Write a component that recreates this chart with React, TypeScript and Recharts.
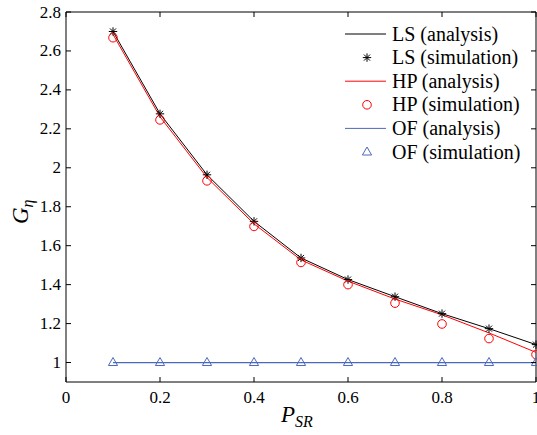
import React from 'react';
import { LineChart, Line, XAxis, YAxis, ReferenceArea, Legend } from 'recharts';

// P_SR values
const psr = [0.1, 0.2, 0.3, 0.4, 0.5, 0.6, 0.7, 0.8, 0.9, 1.0];

// G_eta
const lsAnalysis = [2.7, 2.277, 1.964, 1.725, 1.537, 1.426, 1.338, 1.251, 1.174, 1.092];
const lsSimulation = [2.7, 2.277, 1.964, 1.725, 1.537, 1.426, 1.338, 1.251, 1.174, 1.092];
const hpAnalysis = [2.685, 2.262, 1.95, 1.712, 1.527, 1.418, 1.326, 1.245, 1.152, 1.052];
const hpSimulation = [2.668, 2.246, 1.933, 1.699, 1.514, 1.4, 1.305, 1.198, 1.123, 1.041];
const ofAnalysis = [1, 1, 1, 1, 1, 1, 1, 1, 1, 1];
const ofSimulation = [1, 1, 1, 1, 1, 1, 1, 1, 1, 1];

const xTicks = [0, 0.2, 0.4, 0.6, 0.8, 1];
const yTicks = [1, 1.2, 1.4, 1.6, 1.8, 2, 2.2, 2.4, 2.6, 2.8];

const legendLabels = [
  'LS (analysis)',
  'LS (simulation)',
  'HP (analysis)',
  'HP (simulation)',
  'OF (analysis)',
  'OF (simulation)',
];

const data = psr.map((x, i) => ({
  x,
  lsA: lsAnalysis[i],
  lsS: lsSimulation[i],
  hpA: hpAnalysis[i],
  hpS: hpSimulation[i],
  ofA: ofAnalysis[i],
  ofS: ofSimulation[i],
}));

const FONT = '"Liberation Serif", "Times New Roman", serif';
const RED = '#ff0000';
const BLUE = '#4a68bd';
// plot box edges (px), used for the inward MATLAB-style ticks
const BOX = { left: 66, right: 536, top: 12, bottom: 382 };

const fmt = (v: number) => String(Math.round(v * 10) / 10);

const Star = ({ cx, cy, color = '#000', r = 4.2 }: any) => {
  const d = r * 0.72;
  return (
    <g stroke={color} strokeWidth={1}>
      <line x1={cx - r} y1={cy} x2={cx + r} y2={cy} />
      <line x1={cx} y1={cy - r} x2={cx} y2={cy + r} />
      <line x1={cx - d} y1={cy - d} x2={cx + d} y2={cy + d} />
      <line x1={cx - d} y1={cy + d} x2={cx + d} y2={cy - d} />
    </g>
  );
};

const Circle = ({ cx, cy }: any) => (
  <circle cx={cx} cy={cy} r={4.3} fill="none" stroke={RED} strokeWidth={1} />
);

const Triangle = ({ cx, cy }: any) => (
  <path
    d={`M${cx},${cy - 5} L${cx + 4.6},${cy + 3} L${cx - 4.6},${cy + 3} Z`}
    fill="none"
    stroke={BLUE}
    strokeWidth={1}
  />
);

const renderStar = (p: any) => <Star key={`s${p.index}`} cx={p.cx} cy={p.cy} />;
const renderCircle = (p: any) => <Circle key={`c${p.index}`} cx={p.cx} cy={p.cy} />;
const renderTriangle = (p: any) => <Triangle key={`t${p.index}`} cx={p.cx} cy={p.cy} />;

const XTick = ({ x, payload }: any) => (
  <g>
    <line x1={x} x2={x} y1={BOX.bottom} y2={BOX.bottom - 5} stroke="#000" />
    <line x1={x} x2={x} y1={BOX.top} y2={BOX.top + 5} stroke="#000" />
    <text x={x} y={BOX.bottom + 21} textAnchor="middle" fontSize={17} fontFamily={FONT} fill="#000">
      {fmt(payload.value)}
    </text>
  </g>
);

const YTick = ({ y, payload }: any) => (
  <g>
    <line x1={BOX.left} x2={BOX.left + 5} y1={y} y2={y} stroke="#000" />
    <line x1={BOX.right} x2={BOX.right - 5} y1={y} y2={y} stroke="#000" />
    <text x={BOX.left - 5} y={y + 5.5} textAnchor="end" fontSize={17} fontFamily={FONT} fill="#000">
      {fmt(payload.value)}
    </text>
  </g>
);

const YLabel = () => (
  <text transform="translate(28,224) rotate(-90)" fontFamily={FONT} fontStyle="italic" fill="#000">
    <tspan fontSize={23}>G</tspan>
    <tspan fontSize={16} dy={5}>η</tspan>
  </text>
);

const XLabel = () => (
  <text x={281} y={422} fontFamily={FONT} fontStyle="italic" fill="#000">
    <tspan fontSize={23}>P</tspan>
    <tspan fontSize={16} dy={5}>SR</tspan>
  </text>
);

const LegendBox = () => (
  <svg width={200} height={150}>
    {legendLabels.map((label, i) => {
      const y = 12 + i * 23.6;
      const color = i < 2 ? '#000' : i < 4 ? RED : BLUE;
      const isLine = i % 2 === 0;
      return (
        <g key={label}>
          {isLine ? (
            <line x1={5} x2={46} y1={y} y2={y} stroke={color} strokeWidth={1} />
          ) : i === 1 ? (
            <Star cx={27} cy={y} />
          ) : i === 3 ? (
            <Circle cx={27} cy={y} />
          ) : (
            <Triangle cx={27} cy={y} />
          )}
          <text x={52} y={y + 6.5} fontSize={20} fontFamily={FONT} fill="#000">
            {label}
          </text>
        </g>
      );
    })}
  </svg>
);

export default function App() {
  return (
    <div style={{ position: 'absolute', left: 0, top: 0, background: '#fff' }}>
      <LineChart width={537} height={435} data={data} margin={{ top: 12, right: 1, bottom: 0, left: 0 }}>
        <XAxis
          type="number"
          dataKey="x"
          domain={[0, 1]}
          ticks={xTicks}
          interval={0}
          height={53}
          axisLine={false}
          tickLine={false}
          tick={XTick}
          label={{ content: XLabel }}
        />
        <YAxis
          type="number"
          domain={[0.9, 2.8]}
          ticks={yTicks}
          interval={0}
          width={66}
          axisLine={false}
          tickLine={false}
          tick={YTick}
          label={{ content: YLabel }}
        />
        <ReferenceArea x1={0} x2={1} y1={0.9} y2={2.8} fill="none" fillOpacity={0} stroke="#000" strokeWidth={1} />
        <Legend
          verticalAlign="middle"
          align="center"
          wrapperStyle={{ left: 340, top: 22, width: 200 }}
          content={LegendBox}
        />
        <Line dataKey="ofA" name="OF (analysis)" stroke={BLUE} strokeWidth={1.2} dot={false} isAnimationActive={false} />
        <Line dataKey="hpA" name="HP (analysis)" stroke={RED} strokeWidth={1} dot={false} isAnimationActive={false} />
        <Line dataKey="lsA" name="LS (analysis)" stroke="#000" strokeWidth={1} dot={false} isAnimationActive={false} />
        <Line dataKey="lsS" name="LS (simulation)" stroke="none" dot={renderStar} isAnimationActive={false} />
        <Line dataKey="hpS" name="HP (simulation)" stroke="none" dot={renderCircle} isAnimationActive={false} />
        <Line dataKey="ofS" name="OF (simulation)" stroke="none" dot={renderTriangle} isAnimationActive={false} />
      </LineChart>
    </div>
  );
}
